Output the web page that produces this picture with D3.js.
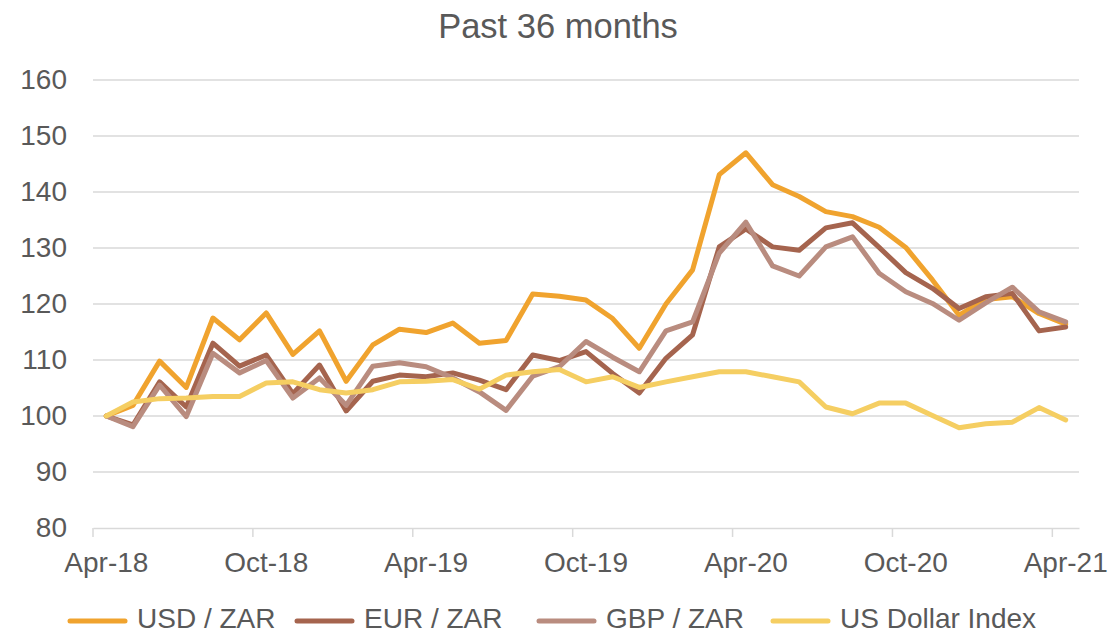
<!DOCTYPE html>
<html>
<head>
<meta charset="utf-8">
<script src="https://cdn.jsdelivr.net/npm/d3@7"></script>
<style>
  html, body { margin: 0; padding: 0; background: #fff; }
  svg { display: block; font-family: "Liberation Sans", Arial, sans-serif; }
</style>
</head>
<body>
<svg id="chart" width="1109" height="634"></svg>
<script>
// month labels, one per point (Apr-18 .. Apr-21)
const months = ["Apr-18","May-18","Jun-18","Jul-18","Aug-18","Sep-18","Oct-18","Nov-18","Dec-18","Jan-19","Feb-19","Mar-19",
  "Apr-19","May-19","Jun-19","Jul-19","Aug-19","Sep-19","Oct-19","Nov-19","Dec-19","Jan-20","Feb-20","Mar-20",
  "Apr-20","May-20","Jun-20","Jul-20","Aug-20","Sep-20","Oct-20","Nov-20","Dec-20","Jan-21","Feb-21","Mar-21","Apr-21"];

const usdZar = [100,101.9,109.8,105.1,117.5,113.6,118.4,111,115.2,106.2,112.7,115.5,
  114.9,116.6,113,113.5,121.8,121.4,120.7,117.4,112.1,120,126.1,143.1,
  147,141.3,139.2,136.5,135.6,133.7,130.1,124.3,118,120.8,121.3,118.3,116.4];
const eurZar = [100,98.4,106.1,101.6,113,108.9,110.9,104,109.1,100.9,106.2,107.3,
  107,107.7,106.4,104.7,110.9,109.9,111.5,107.6,104.1,110.3,114.5,130.2,
  133.4,130.2,129.6,133.6,134.5,130.1,125.6,122.8,119.2,121.3,121.9,115.2,115.9];
const gbpZar = [100,98.1,105.5,99.9,111.2,107.7,109.9,103.2,106.8,101.9,108.9,109.5,
  108.8,106.8,104.3,101,107.1,108.8,113.3,110.5,107.9,115.2,116.8,129.1,
  134.6,126.8,125,130.2,132,125.5,122.2,120.1,117.1,120.2,123,118.6,116.8];
const usdIndex = [100,102.5,103.1,103.2,103.5,103.5,105.9,106.1,104.7,104.1,104.7,106.1,
  106.2,106.5,104.8,107.3,107.9,108.3,106.1,107,105.1,106.1,107,107.9,
  107.9,107,106.1,101.6,100.4,102.3,102.3,100.1,97.9,98.6,98.9,101.5,99.3];

const seriesNames = ["USD / ZAR", "EUR / ZAR", "GBP / ZAR", "US Dollar Index"];
const yTicks = [80, 90, 100, 110, 120, 130, 140, 150, 160];
const xTickLabels = ["Apr-18","Oct-18","Apr-19","Oct-19","Apr-20","Oct-20","Apr-21"];

const colors = ["#F0A32E", "#A5644E", "#B98C7F", "#F5CE62"];
const textColor = "#595959";
const gridColor = "#D9D9D9";

const svg = d3.select("#chart");
const plotL = 93, plotR = 1079, plotT = 80, plotB = 528;
const fontSize = 28;

const x = d3.scaleBand().domain(d3.range(months.length)).range([plotL, plotR]);
const y = d3.scaleLinear().domain([80, 160]).range([plotB, plotT]);
const cx = i => x(i) + x.bandwidth() / 2;

// title
svg.append("text")
  .attr("x", 558).attr("y", 37.5)
  .attr("text-anchor", "middle")
  .attr("font-size", 34.5)
  .attr("fill", textColor)
  .text("Past 36 months");

// gridlines
svg.append("g")
  .selectAll("line")
  .data(yTicks.filter(d => d > 80))
  .join("line")
  .attr("x1", plotL).attr("x2", plotR)
  .attr("y1", d => y(d)).attr("y2", d => y(d))
  .attr("stroke", gridColor).attr("stroke-width", 1.5);

// y axis labels
const yAxis = svg.append("g")
  .attr("transform", `translate(${plotL},0)`)
  .call(d3.axisLeft(y).tickValues(yTicks).tickSize(0).tickPadding(26));
yAxis.select(".domain").remove();
yAxis.selectAll("text")
  .attr("font-size", fontSize)
  .attr("fill", textColor)
  .attr("font-family", "Liberation Sans, Arial, sans-serif");

// x axis: band axis, labels every 6 months, ticks at band boundaries
const xAxis = svg.append("g")
  .attr("transform", `translate(0,${plotB})`)
  .call(d3.axisBottom(x)
    .tickValues(months.map((m, i) => i).filter(i => xTickLabels.includes(months[i])))
    .tickFormat(i => months[i])
    .tickSize(0)
    .tickPadding(24.5));
xAxis.select(".domain")
  .attr("stroke", gridColor).attr("stroke-width", 1.5);
xAxis.selectAll("text")
  .attr("font-size", fontSize)
  .attr("fill", textColor)
  .attr("font-family", "Liberation Sans, Arial, sans-serif");
xAxis.selectAll(".tick").append("line")
  .attr("x1", -x.bandwidth() / 2).attr("x2", -x.bandwidth() / 2)
  .attr("y1", 0).attr("y2", 9)
  .attr("stroke", gridColor).attr("stroke-width", 1.5);

// lines
const allSeries = [usdZar, eurZar, gbpZar, usdIndex];
const line = d3.line().x((d, i) => cx(i)).y(d => y(d));
svg.append("g")
  .selectAll("path")
  .data(allSeries)
  .join("path")
  .attr("d", d => line(d))
  .attr("fill", "none")
  .attr("stroke", (d, k) => colors[k])
  .attr("stroke-width", 5)
  .attr("stroke-linejoin", "round")
  .attr("stroke-linecap", "round");

// legend
const legendX = [70, 297, 539, 773];
const legend = svg.append("g")
  .selectAll("g")
  .data(seriesNames)
  .join("g")
  .attr("transform", (d, i) => `translate(${legendX[i]},621)`);
legend.append("line")
  .attr("x1", 0).attr("x2", 55)
  .attr("stroke", (d, i) => colors[i])
  .attr("stroke-width", 5)
  .attr("stroke-linecap", "round");
legend.append("text")
  .attr("x", 67).attr("y", 6.5)
  .attr("font-size", fontSize)
  .attr("fill", textColor)
  .text(d => d);
</script>
</body>
</html>
